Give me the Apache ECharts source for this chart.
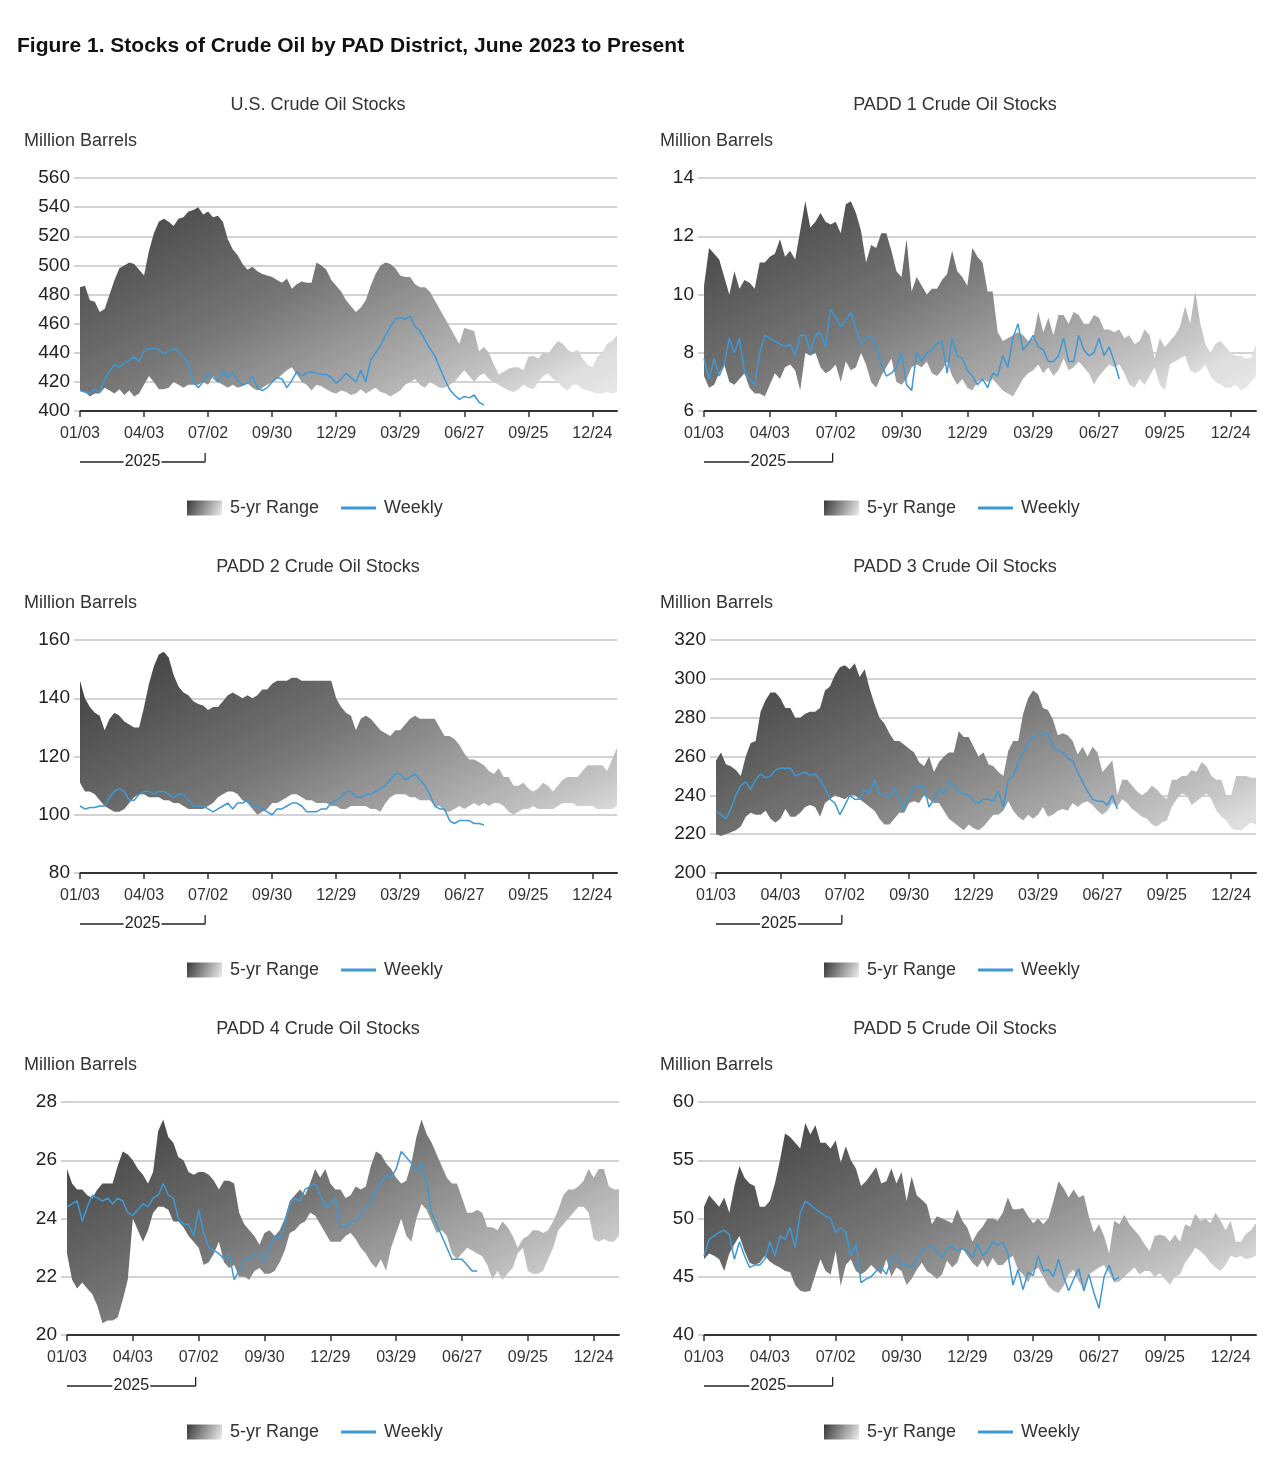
<!DOCTYPE html>
<html>
<head>
<meta charset="utf-8">
<title>Stocks of Crude Oil by PAD District</title>
<script src="https://cdn.jsdelivr.net/npm/echarts@6/dist/echarts.min.js"></script>
<style>
  html, body { margin: 0; padding: 0; background: #ffffff; }
  #chart { width: 1280px; height: 1457px; }
</style>
</head>
<body>
<div id="chart"></div>
<script>
// week axis: 110 weekly points, a label every 13 weeks
var weekCount = 110;
var tickEvery = 13;
var tickLabels = ["01/03", "04/03", "07/02", "09/30", "12/29", "03/29", "06/27", "09/25", "12/24"];
var yearLabel = "2025";

// U.S. total (million barrels)
var usHi = [485, 486, 476, 475, 468, 470, 480, 490, 498, 500,
  502, 501, 497, 493, 510, 522, 530, 532, 530, 527,
  532, 533, 537, 538, 540, 535, 537, 533, 534, 530,
  518, 511, 507, 501, 497, 499, 496, 494, 493, 492,
  490, 488, 491, 484, 487, 489, 488, 488, 502, 500,
  497, 490, 486, 482, 476, 472, 468, 471, 476, 486,
  494, 500, 502, 501, 498, 493, 492, 492, 487, 485,
  485, 482, 476, 470, 464, 458, 452, 446, 457, 456,
  455, 441, 444, 440, 432, 425, 427, 429, 430, 430,
  428, 437, 438, 436, 440, 439, 444, 448, 446, 442,
  440, 442, 436, 432, 430, 437, 440, 446, 448, 452];
var usLo = [414, 413, 410, 412, 412, 416, 414, 412, 415, 411,
  414, 410, 412, 418, 424, 420, 415, 415, 416, 420,
  418, 416, 418, 418, 418, 420, 418, 424, 420, 418,
  416, 418, 416, 417, 419, 416, 414, 416, 418, 420,
  422, 425, 428, 430, 425, 420, 418, 414, 418, 417,
  415, 413, 412, 414, 413, 411, 412, 415, 412, 414,
  416, 413, 412, 410, 412, 414, 418, 420, 422, 418,
  416, 420, 418, 416, 416, 418, 420, 424, 428, 424,
  420, 424, 426, 422, 420, 418, 416, 414, 413, 415,
  418, 416, 415, 420, 424, 426, 422, 420, 416, 414,
  418, 418, 415, 414, 413, 412, 412, 413, 412, 413];
var usWeekly = [414, 413, 412, 415, 413, 422, 427, 432, 430, 433,
  435, 437, 434, 441, 443, 443, 442, 439, 441, 443,
  441, 437, 433, 420, 416, 420, 426, 423, 420, 428,
  423, 427, 421, 418, 419, 424, 416, 414, 416, 420,
  423, 422, 416, 421, 427, 424, 426, 427, 426, 425,
  425, 423, 419, 422, 426, 423, 420, 428, 420, 435,
  440, 445, 452, 458, 463, 464, 463, 465, 458, 455,
  449, 443, 438, 430, 422, 415, 411, 408, 410, 409,
  411, 406, 404];

// PADD 1
var p1Hi = [10.3, 11.6, 11.4, 11.2, 10.6, 10.0, 10.8, 10.2, 10.5, 10.4,
  10.2, 11.1, 11.1, 11.3, 11.4, 11.9, 11.3, 11.5, 11.2, 12.2,
  13.2, 12.3, 12.5, 12.8, 12.5, 12.4, 12.5, 12.1, 13.1, 13.2,
  12.8, 12.2, 11.1, 11.7, 11.6, 12.1, 12.1, 11.5, 10.8, 10.6,
  11.9, 10.1, 10.6, 10.3, 10.0, 10.2, 10.2, 10.5, 10.7, 11.5,
  10.8, 10.6, 10.3, 11.6, 11.3, 11.1, 10.1, 10.1, 8.7, 8.4,
  8.5, 8.6, 8.7, 8.6, 8.4, 8.5, 9.4, 8.7, 9.2, 8.6,
  9.3, 9.3, 9.0, 9.4, 9.3, 9.0, 9.0, 9.3, 9.2, 8.8,
  8.8, 8.7, 8.8, 8.5, 8.6, 8.3, 8.4, 8.8, 8.6, 7.8,
  8.5, 8.2, 8.4, 8.6, 8.9, 9.6, 9.0, 10.1, 9.0, 8.3,
  8.0, 8.3, 8.4, 8.2, 8.0, 7.9, 7.9, 7.8, 7.8, 8.3];
var p1Lo = [7.2, 6.8, 6.9, 7.3, 7.6, 7.0, 6.9, 7.1, 7.3, 6.8,
  6.6, 6.6, 6.5, 6.9, 7.3, 7.1, 7.5, 7.6, 7.4, 6.7,
  8.0, 7.9, 8.0, 7.5, 7.3, 7.4, 7.6, 7.0, 7.7, 7.4,
  7.5, 8.0, 7.6, 7.0, 6.8, 7.2, 7.5, 7.8, 7.0, 6.9,
  7.1, 7.5, 7.6, 7.5, 7.7, 7.3, 7.2, 7.4, 7.7, 7.2,
  6.9, 7.1, 6.8, 6.7, 7.0, 7.1, 7.0, 7.1, 6.9, 6.7,
  6.6, 6.5, 6.8, 7.1, 7.3, 7.4, 7.6, 7.3, 7.5, 7.2,
  7.4, 7.8, 7.4, 7.5, 7.7, 7.5, 7.3, 6.9, 7.2, 7.4,
  7.6, 7.5, 7.6, 7.3, 6.9, 6.8, 7.1, 6.9, 7.2, 7.5,
  6.9, 6.7, 7.6, 7.7, 7.8, 7.9, 7.4, 7.3, 7.4, 7.6,
  7.2, 7.0, 6.9, 6.8, 6.8, 6.9, 6.7, 6.8, 7.0, 7.2];
var p1Weekly = [7.8, 7.1, 7.8, 7.2, 7.6, 8.5, 8.0, 8.5, 7.3, 7.1,
  6.9, 8.0, 8.6, 8.5, 8.4, 8.3, 8.2, 8.3, 7.9, 8.6,
  8.6, 8.0, 8.6, 8.7, 8.2, 9.5, 9.2, 8.9, 9.1, 9.4,
  8.8, 8.3, 8.5, 8.6, 8.2, 7.6, 7.2, 7.3, 7.5, 8.0,
  6.9, 6.7, 8.0, 7.7, 8.0, 8.1, 8.3, 8.4, 7.3, 8.5,
  7.9, 7.8, 7.4, 7.2, 6.9, 7.1, 6.8, 7.3, 7.2, 7.9,
  7.5, 8.5, 9.0, 8.1, 8.3, 8.6, 8.2, 8.1, 7.7, 7.7,
  7.9, 8.5, 7.7, 7.7, 8.6, 8.1, 7.9, 8.0, 8.5, 7.9,
  8.2, 7.7, 7.1];

// PADD 2
var p2Hi = [146, 140, 137, 135, 134, 129, 133, 135, 134, 132,
  131, 130, 130, 137, 145, 151, 155, 156, 154, 148,
  144, 142, 141, 139, 138, 137.5, 136, 137, 137, 139,
  141, 142, 141, 140, 141, 140, 141, 143, 143, 145,
  146, 146, 146, 147, 147, 146, 146, 146, 146, 146,
  146, 146, 140, 137, 135, 134, 129, 133, 134, 133,
  131, 129, 128, 127, 129, 129, 131, 133, 134, 133,
  133, 133, 133, 130, 127, 127, 126, 124, 121, 119,
  119, 118, 117, 115, 114, 116, 113, 113, 110, 110,
  111, 109, 108, 109, 111, 110, 108, 110, 112, 113,
  113, 113, 115, 117, 117, 117, 117, 115, 119, 123];
var p2Lo = [111, 108, 108, 107, 105, 103, 102, 101, 101, 102,
  104, 106, 107, 107, 106, 106, 106, 105, 105, 104,
  104, 103, 102, 102, 102, 102, 103, 104, 106, 107,
  108, 108, 107, 105, 104, 102, 100, 101, 102, 104,
  104, 105, 106, 107, 107, 106, 105, 105, 104, 104,
  104, 103, 103, 102, 102, 103, 103, 103, 103, 102,
  102, 101, 104, 106, 107, 107, 107, 106, 106, 105,
  105, 105, 103, 103, 101, 101, 102, 103, 102, 103,
  104, 103, 104, 103, 104, 104, 103, 101, 100, 101,
  102, 102, 103, 102, 102, 102, 102, 103, 104, 104,
  104, 103, 103, 103, 103, 102, 102, 102, 102, 103];
var p2Weekly = [103, 102, 102.5, 102.5, 103, 103, 106, 108, 109, 108,
  105, 105, 107, 108, 108, 107, 108, 108, 107, 106,
  107, 107, 105, 103, 103, 103, 102, 101, 102, 103,
  104, 102, 104, 104, 105, 103, 103, 102, 101, 100,
  102, 102, 103, 104, 104, 103, 101, 101, 101, 102,
  102, 104, 105, 106, 108, 108, 106, 106, 107, 107,
  108, 109, 110, 112, 114, 114, 112, 113, 114, 112,
  110, 107, 103, 102, 102, 98, 97, 98, 98, 98,
  97, 97, 96.5];

// PADD 3
var p3Hi = [258, 262, 256, 255, 253, 250, 260, 267, 268, 283,
  289, 293, 293, 290, 285, 285, 280, 280, 282, 283,
  283, 285, 294, 296, 302, 306, 307, 305, 308, 301,
  305, 295, 287, 280, 277, 272, 268, 268, 266, 264,
  262, 257, 255, 260, 252, 257, 260, 262, 262, 273,
  270, 270, 265, 260, 262, 256, 255, 252, 250, 263,
  268, 268, 282, 290, 294, 292, 285, 284, 279, 271,
  272, 271, 268, 261, 265, 260, 265, 262, 252, 255,
  258, 240, 248, 248, 245, 242, 240, 242, 245, 243,
  240, 238, 248, 248, 250, 250, 253, 252, 257, 255,
  250, 248, 248, 240, 240, 250, 250, 250, 249, 249];
var p3Lo = [220, 219, 220, 221, 222, 224, 229, 231, 230, 230,
  232, 228, 226, 228, 233, 229, 229, 231, 234, 235,
  234, 229, 236, 238, 240, 239, 238, 240, 240, 238,
  236, 234, 232, 228, 225, 225, 228, 231, 231, 236,
  237, 236, 240, 238, 236, 236, 232, 228, 226, 224,
  222, 225, 223, 222, 224, 227, 230, 230, 232, 237,
  232, 229, 227, 230, 228, 230, 234, 229, 230, 232,
  233, 232, 236, 234, 236, 237, 235, 232, 230, 232,
  236, 234, 238, 236, 233, 231, 229, 228, 225, 224,
  226, 227, 234, 238, 241, 240, 235, 237, 239, 241,
  238, 232, 229, 227, 223, 222, 222, 224, 226, 225];
var p3Weekly = [232, 230, 228, 233, 240, 245, 247, 243, 248, 251,
  249, 250, 253, 254, 254, 254, 250, 251, 252, 250,
  251, 248, 244, 238, 236, 230, 235, 240, 238, 238,
  243, 241, 248, 241, 240, 239, 244, 238, 233, 240,
  244, 245, 244, 234, 238, 243, 241, 247, 245, 242,
  241, 240, 237, 236, 238, 238, 237, 242, 234, 248,
  250, 257, 262, 267, 270, 271, 271, 272, 265, 263,
  262, 259, 258, 252, 247, 242, 238, 237, 237, 235,
  240, 233];

// PADD 4
var p4Hi = [25.7, 25.2, 25.0, 25.0, 24.8, 24.7, 25.0, 25.2, 25.2, 25.2,
  25.8, 26.3, 26.2, 26.0, 25.7, 25.5, 25.2, 25.6, 27.0, 27.4,
  26.8, 26.6, 26.1, 26.0, 25.6, 25.5, 25.6, 25.6, 25.5, 25.3,
  25.0, 25.3, 25.3, 25.2, 24.2, 23.8, 23.6, 23.4, 23.1, 23.5,
  23.6, 23.4, 23.6, 24.0, 24.6, 24.8, 25.0, 24.8, 25.2, 25.7,
  25.4, 25.7, 25.2, 25.0, 25.0, 24.7, 24.8, 25.1, 25.0, 25.1,
  25.8, 26.3, 26.2, 25.9, 25.7, 25.4, 25.2, 25.3, 25.9, 26.8,
  27.4, 26.9, 26.6, 26.2, 25.8, 25.4, 25.2, 25.2, 24.7, 24.2,
  24.2, 24.3, 24.2, 23.7, 23.7, 23.6, 23.9, 23.7, 23.4, 23.0,
  23.3, 23.4, 23.6, 23.6, 23.5, 23.6, 23.9, 24.3, 24.8, 25.0,
  25.0, 25.1, 25.3, 25.7, 25.4, 25.7, 25.7, 25.1, 25.0, 25.0];
var p4Lo = [22.8, 21.9, 21.6, 21.8, 21.6, 21.4, 21.0, 20.4, 20.5, 20.5,
  20.6, 21.2, 21.9, 24.0, 23.6, 23.2, 23.6, 24.2, 24.4, 24.4,
  24.3, 23.9, 23.9, 23.7, 23.4, 23.2, 23.0, 22.4, 22.5, 22.8,
  23.2, 22.5, 22.3, 22.4, 22.0, 22.0, 21.9, 22.2, 22.3, 22.1,
  22.1, 22.2, 22.5, 22.9, 23.5, 23.6, 23.8, 23.9, 24.2, 24.1,
  23.8, 23.5, 23.2, 23.2, 23.2, 23.4, 23.5, 23.3, 23.0, 22.8,
  22.5, 22.3, 22.6, 22.2, 23.0, 23.5, 24.0, 23.4, 23.2, 24.0,
  24.5, 24.3, 23.9, 23.5, 23.6, 23.4, 22.8, 22.6, 22.8, 23.0,
  22.9, 22.8, 22.7, 22.4, 21.9, 22.2, 21.9, 22.1, 22.3, 22.8,
  23.0, 22.2, 22.1, 22.1, 22.2, 22.6, 23.0, 23.6, 23.8, 24.0,
  24.2, 24.4, 24.4, 24.2, 23.3, 23.2, 23.3, 23.2, 23.2, 23.4];
var p4Weekly = [24.4, 24.5, 24.6, 23.9, 24.4, 24.8, 24.7, 24.6, 24.7, 24.5,
  24.7, 24.6, 24.2, 24.1, 24.3, 24.5, 24.4, 24.7, 24.8, 25.2,
  24.8, 24.7, 24.0, 23.8, 23.8, 23.4, 24.3, 23.5, 23.0, 22.9,
  22.8, 22.6, 22.8, 21.9, 22.2, 22.6, 22.6, 22.8, 22.8, 22.5,
  23.0, 23.4, 23.3, 23.8, 24.5, 24.7, 24.6, 25.0, 25.1, 25.2,
  24.8, 24.4, 24.5, 24.7, 23.7, 23.7, 23.9, 23.9, 24.1, 24.4,
  24.5, 25.0, 25.2, 25.5, 25.4, 25.7, 26.3, 26.1, 25.9, 25.6,
  25.9, 25.2, 24.2, 23.8, 23.4, 23.0, 22.6, 22.6, 22.6, 22.4,
  22.2, 22.2];

// PADD 5
var p5Hi = [51.0, 52.0, 51.5, 51.0, 51.8, 50.5, 52.8, 54.5, 53.5, 53.0,
  52.8, 51.0, 51.0, 51.5, 53.0, 55.0, 57.3, 57.0, 56.5, 56.0,
  58.2, 57.2, 58.0, 56.5, 56.5, 56.0, 56.7, 54.8, 56.2, 55.0,
  54.3, 52.8, 53.2, 53.8, 54.4, 53.0, 53.2, 54.3, 53.0, 54.0,
  51.5, 53.6, 52.0, 51.6, 51.2, 49.5, 50.2, 50.0, 49.8, 49.6,
  50.8, 49.8, 49.2, 48.0, 48.8, 49.3, 50.0, 50.0, 49.8, 50.5,
  51.8, 50.8, 50.8, 50.9, 50.2, 49.6, 50.0, 49.5, 50.0, 51.5,
  53.2, 52.6, 51.8, 52.5, 51.8, 52.0, 50.2, 48.8, 49.5, 48.5,
  47.0, 49.8, 49.5, 50.3, 49.5, 49.0, 48.5, 47.8, 47.2, 48.5,
  48.6, 48.5, 48.0, 48.6, 48.0, 49.5, 49.3, 50.4, 49.8, 50.0,
  49.6, 50.5, 49.8, 49.0, 49.8, 48.0, 48.0, 48.7, 49.0, 49.6];
var p5Lo = [46.5, 47.0, 46.8, 46.5, 45.5, 47.0, 47.8, 48.5, 47.2, 46.2,
  46.0, 46.2, 46.8, 46.3, 46.0, 45.8, 45.5, 45.4, 44.3, 43.8,
  43.7, 43.8, 45.2, 46.5, 45.5, 45.2, 47.2, 44.2, 46.0, 46.5,
  45.5, 45.2, 45.5, 46.0, 45.6, 45.2, 46.5, 45.0, 45.8, 45.5,
  44.3, 44.8, 45.6, 46.2, 45.5, 45.2, 44.8, 45.2, 46.4, 45.8,
  46.2, 47.5, 46.8, 46.2, 45.8, 46.5, 45.8, 46.6, 46.0, 46.0,
  46.5, 46.8, 45.6, 45.2, 44.5, 45.5, 45.8, 45.0, 44.2, 43.8,
  43.6, 44.2, 45.2, 45.6, 44.6, 44.0, 45.2, 45.5, 45.8, 46.0,
  45.3, 44.5, 44.6, 45.0, 45.4, 45.8, 45.2, 45.5, 45.5, 45.0,
  45.3, 44.8, 44.3, 45.0, 45.2, 46.2, 46.8, 47.5, 47.2, 46.8,
  46.2, 45.8, 45.5, 46.0, 46.8, 46.6, 46.8, 46.5, 46.6, 46.8];
var p5Weekly = [46.8, 48.2, 48.5, 48.8, 49.0, 48.6, 46.5, 48.0, 46.8, 45.8,
  46.0, 46.0, 46.5, 48.0, 46.8, 48.5, 48.2, 49.2, 47.5, 50.5,
  51.5, 51.2, 50.8, 50.5, 50.2, 50.0, 48.8, 49.2, 48.8, 46.8,
  47.8, 44.5, 44.8, 45.0, 45.5, 45.8, 45.2, 46.5, 46.8, 46.0,
  46.0, 45.8, 46.5, 47.2, 47.5, 47.6, 47.2, 46.6, 47.5, 47.6,
  47.2, 47.4, 47.2, 46.6, 47.8, 46.8, 47.2, 48.0, 47.7, 48.0,
  47.0, 44.3, 45.6, 43.9, 45.4, 45.1, 46.8, 45.5, 45.6, 45.0,
  46.5, 45.0, 43.8, 44.8, 45.7, 43.8, 45.2, 43.6, 42.3, 45.0,
  46.0, 44.7, 45.0];

var panels = [
  { title: "U.S. Crude Oil Stocks", hi: usHi, lo: usLo, weekly: usWeekly, min: 400, max: 560, step: 20, left: 80, width: 537 },
  { title: "PADD 1 Crude Oil Stocks", hi: p1Hi, lo: p1Lo, weekly: p1Weekly, min: 6, max: 14, step: 2, left: 704, width: 552 },
  { title: "PADD 2 Crude Oil Stocks", hi: p2Hi, lo: p2Lo, weekly: p2Weekly, min: 80, max: 160, step: 20, left: 80, width: 537 },
  { title: "PADD 3 Crude Oil Stocks", hi: p3Hi, lo: p3Lo, weekly: p3Weekly, min: 200, max: 320, step: 20, left: 716, width: 540 },
  { title: "PADD 4 Crude Oil Stocks", hi: p4Hi, lo: p4Lo, weekly: p4Weekly, min: 20, max: 28, step: 2, left: 67, width: 552 },
  { title: "PADD 5 Crude Oil Stocks", hi: p5Hi, lo: p5Lo, weekly: p5Weekly, min: 40, max: 60, step: 5, left: 704, width: 552 }
];

var FONT = "Liberation Sans, Arial, sans-serif";
var rowStep = 462;
var plotTop = 178, plotHeight = 233;
var colCenter = [318, 955];
var colLeft = [24, 660];
var legendLeft = [187, 824];
var weeklyColor = "#3d98d4";

// grey shading of the band: dark upper-left to light lower-right
var bandStops = [
  { offset: 0, color: "#3e3e3e" },
  { offset: 0.38, color: "#767676" },
  { offset: 0.615, color: "#a8a8a8" },
  { offset: 0.756, color: "#c8c8c8" },
  { offset: 0.826, color: "#dedede" },
  { offset: 1, color: "#f2f2f2" }
];

var categories = [];
for (var i = 0; i < weekCount; i++) categories.push(i);
function isTick(i) { return i % tickEvery === 0; }

var myChart = echarts.init(document.getElementById("chart"), null, { renderer: "canvas" });

var titles = [{
  text: "Figure 1. Stocks of Crude Oil by PAD District, June 2023 to Present",
  left: 17, top: 36, padding: 0,
  textStyle: { fontFamily: FONT, fontSize: 21, fontWeight: "bold", color: "#111" }
}];
var grids = [], xAxes = [], yAxes = [], series = [], legends = [], graphics = [];

panels.forEach(function (p, k) {
  var row = Math.floor(k / 2), col = k % 2;
  var off = row * rowStep;
  var top = plotTop + off;

  titles.push({
    text: p.title, left: colCenter[col], top: 96 + off, textAlign: "center", padding: 0,
    textStyle: { fontFamily: FONT, fontSize: 18, fontWeight: "normal", color: "#333" }
  });
  titles.push({
    text: "Million Barrels", left: colLeft[col], top: 132 + off, padding: 0,
    textStyle: { fontFamily: FONT, fontSize: 18, fontWeight: "normal", color: "#333" }
  });

  grids.push({ left: p.left, top: top, width: p.width, height: plotHeight, containLabel: false, outerBoundsMode: "none" });

  xAxes.push({
    type: "category", gridIndex: k, data: categories, boundaryGap: false,
    axisLine: { lineStyle: { color: "#333", width: 2 } },
    axisTick: { show: true, interval: isTick, length: 6, lineStyle: { color: "#333", width: 1.5 } },
    axisLabel: {
      interval: isTick, margin: 15, fontFamily: FONT, fontSize: 16, color: "#333",
      formatter: function (v, idx) { return isTick(idx) ? tickLabels[idx / tickEvery] : ""; }
    },
    splitLine: { show: false }
  });

  yAxes.push({
    type: "value", gridIndex: k, min: p.min, max: p.max, interval: p.step,
    axisLine: { show: false },
    axisTick: { show: true, length: 6, lineStyle: { color: "#c4c4c4", width: 1.5 } },
    axisLabel: { margin: 10, fontFamily: FONT, fontSize: 19, color: "#222" },
    splitLine: { lineStyle: { color: "#c4c4c4", width: 1.5 } }
  });

  // 5-yr range band: invisible base at the low, stacked difference filled
  var diff = p.hi.map(function (h, i) { return Math.max(0, +(h - p.lo[i]).toFixed(2)); });
  var bandFill = new echarts.graphic.LinearGradient(p.left, top + 25, p.left + 215, top + 25 + 409,
    bandStops, true);

  series.push({
    name: "range-base-" + k, type: "line", xAxisIndex: k, yAxisIndex: k,
    stack: "band" + k, data: p.lo, symbol: "none", silent: true,
    lineStyle: { opacity: 0 }, z: 1
  });
  series.push({
    name: "5-yr Range", type: "line", xAxisIndex: k, yAxisIndex: k,
    stack: "band" + k, data: diff, symbol: "none", silent: true,
    lineStyle: { opacity: 0 }, areaStyle: { color: bandFill, opacity: 1 }, z: 1
  });
  series.push({
    name: "Weekly", type: "line", xAxisIndex: k, yAxisIndex: k,
    data: p.weekly, symbol: "none", silent: true,
    lineStyle: { color: weeklyColor, width: 1.5 }, itemStyle: { color: weeklyColor }, z: 3
  });

  legends.push({
    left: legendLeft[col], top: 499 + off, padding: 0, itemWidth: 35, itemHeight: 15, itemGap: 22,
    selectedMode: false,
    textStyle: { fontFamily: FONT, fontSize: 18, color: "#333", padding: [0, 0, 0, 3] },
    data: [
      { name: "5-yr Range", icon: "rect",
        itemStyle: { color: new echarts.graphic.LinearGradient(0, 0, 1, 1,
          [{ offset: 0, color: "#383838" }, { offset: 1, color: "#eeeeee" }]), borderWidth: 0 } },
      { name: "Weekly", icon: "path://M0,0L34,0L34,3L0,3Z",
        itemStyle: { color: weeklyColor, borderWidth: 0 } }
    ]
  });

  // year bracket under the first half year
  var by = 462 + off;
  var bx0 = p.left;
  var bx1 = p.left + 25.4 * p.width / (weekCount - 1);
  var tx = (bx0 + bx1) / 2;
  var ls = { stroke: "#222", lineWidth: 1.3 };
  graphics.push({ type: "line", shape: { x1: bx0, y1: by, x2: tx - 19, y2: by }, style: ls });
  graphics.push({ type: "line", shape: { x1: tx + 19, y1: by, x2: bx1, y2: by }, style: ls });
  graphics.push({ type: "line", shape: { x1: bx1, y1: by - 9, x2: bx1, y2: by }, style: ls });
  graphics.push({ type: "text", x: tx, y: by, style: {
    text: yearLabel, font: "16px " + FONT, fill: "#222", textAlign: "center", textVerticalAlign: "middle"
  } });
});

var option = {
  backgroundColor: "#ffffff",
  animation: false,
  title: titles,
  grid: grids,
  xAxis: xAxes,
  yAxis: yAxes,
  legend: legends,
  graphic: graphics,
  series: series
};

myChart.setOption(option);
</script>
</body>
</html>
